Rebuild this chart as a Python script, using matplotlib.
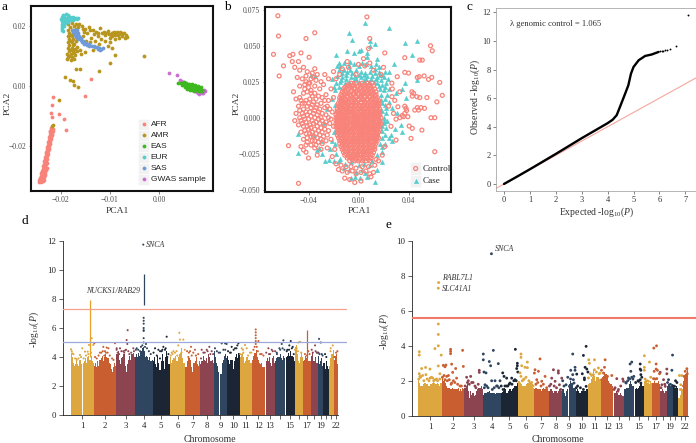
import numpy as np
import matplotlib
matplotlib.use('Agg')
import matplotlib.pyplot as plt
from matplotlib.patches import Rectangle

plt.rcParams['font.family'] = ['Liberation Serif', 'DejaVu Sans']
plt.rcParams['mathtext.fontset'] = 'custom'
plt.rcParams['mathtext.rm'] = 'Liberation Serif'
plt.rcParams['mathtext.it'] = 'Liberation Serif:italic'

W, H = 696, 443

# panel a, values in 1e-4 PCA units
afr_pts = [(-245,-318),(-240,-318),(-236,-316),(-244,-312),(-239,-311),(-235,-310),(-243,-305),(-238,-304),(-234,-303),
           (-241,-298),(-236,-297),(-232,-296),(-240,-290),(-235,-289),(-232,-287),(-238,-282),(-234,-281),(-230,-279),
           (-237,-274),(-233,-273),(-229,-271),(-236,-266),(-232,-265),(-235,-258),(-231,-257),(-228,-255),(-234,-250),
           (-230,-249),(-233,-242),(-229,-241),(-232,-234),(-228,-233),(-231,-226),(-227,-225),(-230,-218),(-226,-217),
           (-229,-210),(-225,-209),(-228,-202),(-224,-201),(-227,-194),(-223,-193),(-226,-186),(-222,-185),(-225,-178),
           (-221,-177),(-224,-170),(-220,-169),(-223,-162),(-219,-161),(-222,-154),(-218,-156),(-221,-146),(-220,-138),
           (-217,-142),(-223,-150),(-216,-148),(-216,-38),(-218,-64),(-220,-91),(-219,-102),(-203,-94),(-193,-109),
           (-190,-146),(-139,22),(-150,-32),(-96,174)]
amr_pts = [(-186,205),(-178,208),(-170,205),(-182,195),(-174,198),(-166,196),(-186,185),(-178,187),(-170,188),(-184,175),
           (-176,177),(-168,178),(-186,165),(-178,167),(-170,168),(-183,155),(-175,157),(-167,158),(-185,145),(-178,147),
           (-170,148),(-184,135),(-176,137),(-168,130),(-186,125),(-178,127),(-172,122),(-184,115),(-176,117),(-168,115),
           (-187,105),(-179,107),(-172,102),(-185,95),(-177,97),(-188,88),(-180,85),(-174,88),(-158,198),(-150,190),
           (-142,196),(-135,187),(-128,180),(-120,192),(-116,175),(-110,168),(-105,183),(-100,160),(-95,175),(-90,168),
           (-85,178),(-82,160),(-78,172),(-75,165),(-72,176),(-68,168),(-65,163),(-70,158),(-76,175),(-88,172),(-92,180),
           (-98,168),(-103,172),(-112,180),(-118,155),(-125,165),(-132,172),(-138,160),(-146,175),(-152,178),(-155,165),
           (-148,150),(-140,145),(-130,150),(-122,140),(-110,150),(-100,145),(-90,155),(-105,132),(-95,125),(-162,120),
           (-160,105),(-150,112),(-135,120),(-30,100),(-100,77),(-90,103),(-122,51),(-161,55),(-169,57),(-192,31),(-182,20),
           (-176,18),(-173,4),(-166,-2),(-203,-46),(-216,-130),(-218,-133),(-182,170),(-180,150),(-173,140),(-181,120),
           (-174,110),(-183,100),(-163,205),(-155,188),(-140,185),(-124,175),(-108,174),(-96,165),(-84,170),(-80,180)]
eas_pts = [(39,9),(44,11),(48,7),(52,9),(56,6),(60,4),(64,2),(68,0),(72,-2),(76,-4),(80,-7),(84,-9),(50,2),(54,0),(58,-2),
           (62,-4),(66,-6),(70,-8),(74,-10),(78,-12),(82,-14),(86,-15),(55,4),(59,1),(63,-1),(67,-3),(71,-5),(75,-7),(79,-9),
           (83,-11),(87,-12),(47,3),(51,5),(56,-3),(60,-7),(65,-10),(70,-12),(76,-14),(82,-17),(88,-18),(50,12),(55,10),
           (61,8),(67,6),(73,3),(79,-1),(85,-5),(52,-5),(58,-9),(64,-14),(72,-17)]
eur_pts = [(-195,236),(-190,238),(-186,234),(-182,230),(-176,228),(-170,226),(-166,226),(-198,228),(-193,229),(-187,226),
           (-180,224),(-173,222),(-168,221),(-199,221),(-194,222),(-188,219),(-182,218),(-175,217),(-198,214),(-193,215),
           (-186,212),(-197,207),(-192,208),(-197,200),(-193,200),(-197,193),(-197,186),(-196,181)]
sas_pts = [(-176,187),(-172,185),(-168,184),(-175,178),(-170,177),(-166,175),(-172,170),(-167,169),(-163,167),(-169,162),
           (-164,160),(-160,158),(-165,154),(-160,152),(-156,150),(-158,146),(-153,144),(-149,143),(-152,138),(-147,137),
           (-143,138),(-142,133),(-137,132),(-133,134),(-131,129),(-126,128),(-122,127),(-124,122),(-118,123),(-114,126),(-120,118)]
gwas_pts = [(20,44),(36,36),(43,20),(46,9),(92,-13),(87,-24),(80,-22),(73,-15),(83,-8),(94,-15),(90,-22),(56,-4),(67,-13),
            (77,-19),(48,14),(44,17),(85,-14),(82,-26)]
pop_labels = ['AFR', 'AMR', 'EAS', 'EUR', 'SAS', 'GWAS sample']
pop_colors = ['#F8837A', '#B8961E', '#3DB81E', '#55CCCC', '#6F9AD8', '#C96FD0']

# panel b, values in 1e-3 PCA units
control_pts = [(-64.5,70.8),(6.7,70),(-64,56.7),(-35,59),(-42,55),(9,55),(-68,44),(-60,36),(-63.5,29),(-55,43),(-52.5,44),(-46,45),
               (-39.5,42),(-53,39),(-48,39),(21,45),(57.6,50),(59,46.5),(37,41.7),(49,40),(51,40),(37,31.5),(40,31),(47,28),(48.5,28.5),
               (52.5,29),(58.6,28),(56,26.6),(65,24.5),(31,28.5),(26.7,24),(62.7,11),(67,15.5),(61,0),(58,0),(42.7,18),(44,17),(46.7,14.6),
               (49,14),(54.7,14),(50,7),(52.8,6.5),(45,5.3),(48,5.3),(39.5,0.7),(38,6.5),(36,0.7),(33,0),(31.5,7.6),(29,12),(26.7,14.6),
               (40.5,-5.8),(43,-7.4),(50.7,-8.6),(42,-14.4),(61,-23.6),(30,-15.5),(-56,-19.4),(-48,-45.6),(-42,-24),(-44,-22.4),
               (35,1.5),(37,3),(38.5,5),(37,8),(28,3),(30,-1),(24,8),(26,-6),(27,20),(33,18),(47,7),(43,15),
               # left cloud
               (-51,35),(-47,33),(-44,35),(-41,32),(-37,31),(-35,34),(-33,30),(-49,28),(-45,27),(-42,29),(-38,27),(-34,26),(-30,25),
               (-52,18),(-47,22),(-43,23),(-39,24),(-35,22),(-31,20),(-28,23),(-50,13),(-47,14),(-44,17),(-41,18),(-38,19),(-35,17),
               (-32,15),(-29,14),(-26,16),(-48,8),(-45,10),(-42,12),(-39,13),(-36,11),(-33,9),(-30,10),(-27,7),(-24,12),(-50,3),(-47,5),
               (-44,6),(-41,8),(-38,7),(-35,5),(-32,4),(-29,3),(-26,2),(-23,6),(-51,-2),(-47,0),(-44,1),(-41,2),(-38,1),(-35,0),(-32,-1),
               (-29,-2),(-26,-3),(-22,-1),(-48,-5),(-45,-4),(-42,-3),(-39,-5),(-36,-4),(-33,-6),(-30,-7),(-27,-8),(-46,-10),(-43,-9),
               (-40,-8),(-37,-10),(-34,-11),(-31,-12),(-28,-13),(-24,-9),(-44,-15),(-41,-14),(-38,-13),(-35,-16),(-32,-17),(-29,-18),
               (-26,-16),(-46,-20),(-42,-19),(-38,-19),(-35,-21),(-30,-22),(-25,-21),(-22,-15),(-20,-6),(-21,4),(-20,14),(-22,20),
               (-24,27),(-27,30),(-20,32),(-18,27),(-40,-28),(-33,-26),
               (-43,20),(-40,21),(-37,15),(-34,13),(-46,12),(-43,10),(-40,10),(-37,9),(-34,7),(-31,6),(-45,3),(-42,4),(-39,4),(-36,3),
               (-33,2),(-30,0),(-46,-2),(-43,-1),(-40,-1),(-37,-2),(-34,-3),(-31,-4),(-44,-6),(-41,-6),(-38,-7),(-35,-8),(-32,-9),(-29,-10),
               (-42,-11),(-39,-11),(-36,-13),(-33,-14),(-30,-15),(-41,-17),(-37,-16),(-34,-19),(-40,24),(-36,28),(-42,25),(-38,17),
               (-27,12),(-25,8),(-24,0),(-27,-5),(-25,-12),(-23,-4),
               # ring round the core
               (-16,-36),(-13,-37),(-9,-38),(-5,-37),(-2,-39),(2,-38),(6,-37),(9,-39),(12,-38),(-14,-33),(-10,-34),(-6,-34),(-2,-35),
               (3,-34),(8,-34),(13,-33),(16,-30),(-3,-45),(2,-44),(-18,-32),(-11,-42),(-7,-43),(10,-41),(-21,-27),(-19,-22),(21,-20),
               (19,-26),(14,-29),(-13,34),(-8,35),(0,37),(5,36),(9,38),(12,33),(-15,30),(-9,39),(4,41),(8,48),(-2,30),(18,30),(20,35)]
core_row_y = [24, 22, 20, 18, 16, 14, 12, 10, 8, 6, 4, 2, 0, -2, -4, -6, -8, -10, -12, -14, -16, -18, -20, -22, -24, -26, -28, -30]
core_row_x = [[-6,-2,3,7,11],
              [-9,-5,-1,4,8,12],
              [-12,-8,-3,1,5,9,13],
              [-13,-10,-6,-2,2,6,10,14],
              [-14,-11,-7,-4,0,3,7,11,14],
              [-15,-12,-9,-5,-2,2,5,9,12,15],
              [-15,-13,-10,-6,-3,0,4,7,10,13,16],
              [-16,-13,-10,-8,-4,-1,2,5,8,11,14,16],
              [-16,-14,-11,-8,-5,-2,1,4,7,10,13,16],
              [-17,-14,-11,-9,-6,-3,0,3,5,8,11,14,17],
              [-17,-15,-12,-9,-6,-4,-1,2,4,7,10,13,15,17],
              [-18,-15,-12,-10,-7,-4,-2,1,4,6,9,12,14,17],
              [-18,-16,-13,-10,-8,-5,-2,0,3,6,8,11,14,16,18],
              [-18,-15,-13,-10,-7,-4,-1,1,4,7,10,12,15,17],
              [-18,-16,-13,-11,-8,-5,-3,0,3,5,8,11,13,16,18],
              [-18,-15,-12,-10,-7,-4,-1,2,4,7,9,12,15,17],
              [-17,-15,-12,-9,-6,-4,-1,1,4,6,9,12,14,17],
              [-17,-14,-11,-9,-6,-3,0,2,5,8,11,13,16],
              [-17,-14,-11,-8,-5,-2,1,3,6,9,12,15],
              [-16,-13,-10,-7,-4,-1,2,5,8,11,14,16],
              [-15,-12,-10,-7,-4,-1,2,5,8,10,13,15],
              [-15,-12,-9,-6,-3,0,3,6,9,12,14],
              [-14,-11,-8,-5,-2,1,4,7,10,13],
              [-13,-10,-7,-4,-1,2,5,8,11,13],
              [-12,-9,-6,-3,0,3,6,9,12],
              [-11,-8,-4,-1,2,5,8,11],
              [-9,-6,-2,1,4,7,10],
              [-7,-3,0,3,6,9]]
core_row2_y = [23, 21, 19, 17, 15, 13, 11, 9, 7, 5, 3, 1, -1, -3, -5, -7, -9, -11, -13, -15, -17, -19, -21, -23, -25, -27, -29]
core_row2_x = [[-8,-4,1,5,9],
               [-11,-7,-3,2,6,10],
               [-11,-6,-1,3,7,11],
               [-12,-8,-4,0,4,8,12],
               [-13,-9,-6,-2,2,5,9,13],
               [-14,-11,-7,-4,0,3,7,11,14],
               [-14,-12,-8,-5,-2,2,5,9,12,15],
               [-15,-12,-9,-6,-3,0,4,7,10,13,15],
               [-15,-13,-10,-7,-4,-1,3,6,9,12,15],
               [-16,-13,-10,-8,-5,-2,2,4,7,10,13,16],
               [-16,-14,-11,-8,-5,-3,0,3,6,9,12,14,16],
               [-17,-14,-11,-9,-6,-3,0,3,5,8,11,13,16],
               [-17,-14,-12,-9,-6,-3,-1,2,5,7,10,13,16],
               [-17,-14,-12,-9,-6,-4,-2,2,4,6,9,12,14,17],
               [-17,-14,-11,-9,-6,-3,-1,1,3,6,8,11,14,16],
               [-16,-14,-11,-8,-5,-3,0,3,5,8,10,13,16],
               [-16,-13,-10,-8,-5,-2,1,3,6,9,12,15],
               [-16,-13,-10,-7,-4,-1,2,4,7,10,13,15],
               [-15,-12,-9,-6,-3,0,3,6,9,12,15],
               [-14,-11,-8,-5,-2,1,4,7,9,12,14],
               [-13,-10,-8,-5,-2,1,4,7,10,13],
               [-13,-10,-7,-4,-1,2,5,8,11],
               [-12,-9,-6,-3,0,3,6,9,12],
               [-11,-8,-5,-2,1,4,7,10],
               [-10,-7,-4,-1,2,4,7,10],
               [-8,-5,-1,3,6,9],
               [-5,-2,1,4,8]]
case_pts = [(5.3,66),(24,62),(-8,59),(-5,54),(37,51.6),(47,53.5),(9,53),(13,51),(9,50),(-9,46),(-3.5,45),(2,47),(0.5,46),(-18,43.5),
            (43,43.5),(7,45),(7,42),(15,41),(28,37),(-6.5,39),(-16,38),(-17,36),(16,35),(13,34),(24.5,32),(21,32),(37,24),(47,26),(38,13.4),
            (23.5,27),(-21,27),(-48.5,-11),(-48.5,-24.7),(34,-5),(35,-10),(27,-16),(-29,-25),(-27,-30),(-24,-29.4),(-32,-21),(-33,-22.5),
            (-6,-41.7),(1.3,-42),(13,-45),(5,-38.6),(-2,-37.5),(9,-33),(19,-31),(18.7,-23.6),
            (-15,36),(-12,38),(-8,36),(-4,37),(0,36),(3,38),(6,37),(10,36),(14,37),(-16,33),(-12,33),(-9,32),(-5,31),(-2,33),(2,32),(5,31),
            (9,32),(13,31),(17,30),(20,28),(-17,29),(-13,28),(-10,27),(-6,28),(-2,27),(2,28),(6,27),(10,27),(14,27),(18,26),(22,24),
            (-18,24),(-15,25),(-11,24),(15,24),(19,23),(24,20),(-20,21),(-16,21),(17,20),(20,19),(23,16),(18,16),(21,13),(24,11),(19,10),
            (22,7),(19,5),(22,3),(20,0),(23,-2),(20,-4),(22,-7),(19,-9),(21,-12),(24,-14),(19,-14),(21,-18),(-19,19),(-21,13),(-19,9),
            (-20,-10),(-21,-16),(-23,-22),(-19,-18),(-18,-25),(-20,-30),(-15,-29),(-11,-32),(-6,-31),(0,-33),(4,-32),(11,-30),(15,-26),
            (-8,-36),(-3,-41),(3,-36),(7,-41),(15,-36),(-36,-12),(-30,-16),(-25,6),(-28,-4),(-38,30),(-35,29),(30,17),(35,20),(31,3),
            (27,7),(29,-8),(26,-12),(-13,31),(-10,30),(-7,33),(-3,29),(0,30),(4,30),(7,29),(11,29),(15,28),(16,32),(19,30),(-14,26),
            (-8,25),(-4,26),(0,25),(4,26),(8,25),(12,25),(16,22),(21,21),(18,12),(21,9),(20,-2),(19,-6),(17,-18),(19,-20),(-16,-30),(-12,-35)]

# panel c
qq_expected = [0, 0.5, 1, 2, 3, 4, 4.2, 4.35, 4.48, 4.68, 4.8, 4.9, 5.0, 5.2, 5.45, 5.7, 5.97]
qq_observed = [0, 0.51, 1.03, 2.1, 3.2, 4.25, 4.5, 4.81, 5.4, 6.33, 6.9, 7.7, 8.18, 8.65, 8.95, 9.05, 9.23]
qq_tail_expected = [6.03, 6.08, 6.14, 6.2, 6.28, 6.42, 6.64, 7.12]
qq_tail_observed = [9.27, 9.3, 9.32, 9.35, 9.38, 9.44, 9.65, 11.8]

# manhattan panels
chrom_mb = [249, 243, 198, 191, 181, 171, 159, 146, 141, 135, 135, 133, 114, 107, 102, 90, 81, 78, 59, 63, 48, 51]
chrom_colors = ['#DDA63F', '#C95F30', '#8C4450', '#2F4560', '#1C2534']
chrom_labels = ['1','2','3','4','5','6','7','8','9','10','11','12','13','','15','','17','','19','','','22']

d_heights = [[4.3,4.0,3.6,3.4,3.5,3.9,3.5,3.4,3.8,3.5,0,3.6,3.7,3.9,3.6,4.0,4.1,3.8,4.1,3.7,3.6],
             [3.4,3.6,3.3,3.7,3.4,3.8,3.9,4.1,3.7,4.0,4.2,4.0,3.9,3.6,3.5,3.2,3.0,3.3,3.6,3.4],
             [4.2,4.4,3.8,3.5,3.9,4.0,4.2,3.4,3.0,3.5,3.8,4.1,3.8,4.2,4.3,4.0],
             [4.0,4.2,4.0,4.3,4.1,4.4,4.6,4.7,4.4,4.0,4.1,4.0,3.8,4.0,3.7,3.8],
             [3.7,4.0,3.5,3.3,4.1,3.6,3.1,3.7,4.2,3.7,3.2,4.0,4.4,4.0,3.5],
             [4.0,3.6,3.8,3.9,3.9,4.1,3.7,4.0,4.2,4.3,4.6,3.9,3.6,3.6],
             [3.3,3.7,3.9,3.9,3.8,3.3,3.0,3.6,3.7,4.0,3.5,3.4,3.7],
             [3.5,3.7,4.1,3.8,3.7,3.9,3.6,4.2,4.0,3.7,3.8,3.6],
             [4.4,4.0,3.6,3.4,3.0,0,2.8,3.6,3.8,4.1,4.2,3.9],
             [4.1,3.8,3.5,3.8,3.8,3.2,3.7,4.0,4.2,3.9,4.3],
             [4.0,4.2,4.3,4.0,3.6,3.7,4.0,3.8,3.8,3.6,3.6],
             [3.8,4.1,4.3,4.5,4.0,3.8,3.6,3.5,3.6,3.3,3.3],
             [0,3.7,3.9,3.7,4.0,3.6,3.4,3.9,4.1,3.6],
             [3.7,3.9,4.0,4.0,4.2,3.9,3.8,4.1,3.9],
             [0,4.0,4.1,4.3,4.1,4.4,4.1,4.0,3.7],
             [4.7,4.8,4.2,3.7,3.6,4.0,4.3,4.0],
             [3.7,3.8,4.1,3.9,4.3,3.7,3.7],
             [4.1,4.3,3.7,3.7,4.0,3.6,3.6],
             [4.1,3.5,3.7,3.9,3.4],
             [3.6,3.2,3.7,3.4,3.2],
             [3.4,3.9,4.2,4.5],
             [3.8,4.1,4.2,3.5]]
d_dot_x = [4,18,100,125,154,183,197,226,243,254,351,387,405,369,397,476,494,315,362,601,608,612,530,494,566,584,619,673,
           709,745,798,809,770,1031,906,942,995,1013,977,1038,959,1167,1174,1210,1156,1138,1103,1085,1292,1282,1335,1317,1264,
           1407,1461,1489,1425,1514,1622,1658,1675,1550,1640,1604,1801,1790,1729,1765,1711,1872,1890,1837,1926,1854,
           1987,1987,1987,1987,1987,1987,2016,1998,1962,2051,2123,2159,2195,2141,2284,2241,2266,2213,2363,2348,2384,2327,
           2463,2445,2427,2409,2552,2624,2588,2642,2667,2685,2660,2696,2731,2814,2792,2864,
           784,784,784,784,784,784,784,784,780,
           # lower hits just over the solid band
           12,30,48,66,85,112,140,165,190,218,262,280,300,330,345,378,420,445,460,505,520,545,575,595,630,650,680,700,725,
           755,820,840,860,890,925,960,985,1020,1050,1075,1095,1120,1145,1190,1225,1250,1270,1300,1345,1370,1400,1440,1470,
           1500,1530,1570,1590,1660,1690,1720,1750,1780,1820,1850,1905,1940,1975,2010,2035,2070,2100,2130,2170,2215,2250,
           2275,2295,2320,2345,2375,2395,2420,2440,2475,2515,2535,2565,2600,2630,2650,2672,2705,2745,2790,2830,2850]
d_dot_y = [4.53,4.25,4.14,4.6,4.37,4.37,4.83,5.29,4.83,4.94,4.7,4.65,4.6,4.4,4.3,4.95,4.5,4.3,4.1,5.17,4.9,5.85,4.6,4.6,4.4,4.45,4.4,4.6,
           4.6,4.4,4.7,4.9,4.8,5.4,4.6,4.5,4.7,4.5,4.4,4.0,3.9,5.67,5.2,5.2,4.8,4.4,4.4,4.3,4.7,4.4,4.5,4.3,4.0,
           4.5,4.5,4.7,4.3,4.4,4.94,4.94,4.9,4.6,4.5,4.3,4.94,4.8,4.7,4.6,4.3,4.83,4.6,4.6,4.3,4.3,
           4.9,5.1,5.3,5.5,5.7,5.9,5.1,4.7,4.5,4.2,4.6,4.5,4.4,4.2,5.15,4.6,4.9,4.3,5.1,4.8,4.7,4.5,
           5.05,5.0,4.6,4.5,4.4,4.8,4.5,4.3,5.25,5.0,4.3,4.2,4.2,4.8,4.6,4.4,
           5.0,5.3,5.8,5.85,6.0,6.3,6.5,6.7,11.75,
           4.4,4.2,3.9,3.8,3.9,4.0,3.9,4.1,4.2,4.3,4.0,3.9,4.1,4.3,4.4,4.3,4.1,3.9,3.8,4.3,4.2,4.4,4.3,4.5,4.2,4.3,4.4,4.5,4.5,
           4.7,4.6,4.4,4.2,4.3,4.1,4.4,4.5,4.6,4.2,4.1,4.2,4.3,4.1,4.3,4.5,4.4,4.3,4.1,4.1,4.2,3.9,4.3,4.4,
           4.2,4.2,4.4,4.3,4.5,4.4,4.3,4.5,4.6,4.2,4.5,4.1,4.3,4.7,4.4,4.2,4.1,4.3,4.2,4.4,4.2,4.5,
           4.6,4.5,4.4,4.5,4.6,4.2,4.4,4.4,4.3,4.2,4.1,4.2,4.3,4.4,4.3,4.2,4.1,4.0,4.4,4.0,4.3]
# vertical runs of hits: position, run start, run end, colour
d_run_x = [206, 784, 2542]
d_run_low = [4.0, 7.6, 3.9]
d_run_high = [7.95, 9.7, 5.85]
d_run_colors = ['#E9A024', '#2F4560', '#C95F30']

e_heights = [[2.1,1.9,1.7,1.7,1.8,1.9,1.9,1.8,1.8,1.7,1.7,1.8,1.9,2.0,1.9,1.8,1.8,1.9,1.8,1.7,1.9],
             [2.2,2.0,2.1,1.9,1.7,1.6,1.6,1.5,1.5,1.6,1.5,1.5,1.5,1.5,1.6,1.4,1.5,1.4,1.6,1.5],
             [1.6,1.7,1.9,1.4,1.0,1.4,1.2,1.3,1.1,1.2,1.4,1.5,1.6,1.6,1.7,1.5],
             [1.2,1.3,1.3,1.3,1.35,1.4,1.3,1.3,1.3,1.3,1.3,1.25,1.3,1.3,1.3,1.3],
             [1.3,1.35,1.4,1.6,1.5,1.3,1.4,1.5,1.5,1.4,1.5,1.6,1.7,1.7,1.9],
             [2.0,1.9,1.9,1.8,1.7,1.7,1.7,1.8,1.9,1.9,2.0,1.9,1.8,1.6],
             [1.5,1.6,1.6,1.5,1.5,1.5,1.4,1.5,1.6,1.5,1.5,1.5,1.4],
             [1.4,1.5,1.5,1.4,1.3,1.4,1.4,1.3,1.4,1.5,1.5,1.4],
             [1.5,1.3,1.1,1.4,1.5,0,1.8,2.0,1.9,1.7,1.6,1.5],
             [1.4,1.5,1.4,1.3,1.3,1.4,1.4,1.4,1.4,1.5,1.5],
             [1.8,1.9,2.1,2.2,2.6,2.3,2.0,2.2,2.2,2.1,2.1],
             [2.0,2.2,2.3,2.5,2.4,2.2,2.0,1.9,1.8,1.8,1.7],
             [0,1.3,1.4,1.3,1.2,1.2,1.3,1.2,1.1,1.1],
             [1.5,1.5,1.6,1.6,1.8,2.0,1.8,1.7,1.7],
             [0,1.5,1.6,1.5,1.6,1.7,1.8,1.7,1.7],
             [2.0,2.1,2.0,1.9,1.9,1.8,2.0,1.9],
             [1.9,1.9,2.0,1.9,1.9,2.0,1.8],
             [1.4,1.4,1.5,1.4,1.3,1.4,1.4],
             [1.7,1.8,1.8,1.7,1.8],
             [1.7,1.6,1.6,1.7,1.6],
             [1.0,1.2,1.6,1.5],
             [2.0,2.2,2.4,2.6]]
e_dot_x = [11,11,36,78,125,178,214,214,214,214,217,245,231,214,153,11,18,46,82,125,178,206,
           267,295,285,345,345,345,356,399,473,481,367,409,303,285,331,356,445,
           651,651,559,516,534,570,605,694,694,801,758,772,854,701,723,783,819,872,712,844,
           1036,1057,1057,1050,1062,901,915,943,997,979,1032,943,
           1096,1096,1164,1104,1139,1164,1086,1096,1121,1193,1299,1246,1239,1282,1353,1317,1264,
           1442,1495,1495,1424,1460,1531,1541,1506,1648,1627,1673,1673,1648,1691,1577,1655,1613,1662,1638,
           1791,1762,1780,1798,1773,1773,1791,1762,1819,1826,1880,1816,1880,1869,1922,1862,
           1994,1987,1940,1976,1958,2019,2065,2118,2182,2189,2136,2100,
           2278,2260,2268,2243,2278,2300,2218,2368,2368,2375,2375,2350,2368,2375,
           2412,2467,2412,2412,2456,2513,2542,2538,2538,2552,2517,2510,2545,
           2581,2574,2617,2599,2652,2652,2670,2635,2713,2706,2734,2745,2787,2812,2801,2866,2848,2837,
           781,
           # lower hits just over the solid band
           6,25,60,95,115,140,165,195,230,258,275,310,322,350,375,390,420,460,500,525,545,585,615,640,670,
           705,730,745,790,810,835,860,885,905,925,955,970,1000,1020,1045,1075,1110,1130,1150,1180,1210,1225,
           1255,1275,1310,1335,1370,1400,1415,1450,1475,1520,1555,1595,1625,1640,1685,1700,1730,1750,1810,1835,
           1850,1900,1930,1955,2000,2040,2090,2130,2160,2215,2235,2255,2290,2320,2345,2385,2420,2440,2480,2525,
           2560,2590,2630,2660,2690,2725,2760,2795,2830,2855,2870]
e_dot_y = [3.66,3.47,2.7,2.76,2.67,3.84,4.0,4.65,5.25,7.3,7.62,3.47,2.4,2.85,2.16,2.4,2.25,2.3,2.35,2.15,2.06,2.0,
           2.88,2.9,2.8,3.8,3.68,3.55,2.95,2.7,3.74,2.82,2.48,2.15,2.25,2.06,2.06,1.87,1.7,
           2.6,2.48,2.25,2.2,2.0,1.9,1.7,3.53,3.2,3.74,3.1,2.86,2.98,2.5,2.45,2.0,2.0,2.0,1.77,1.7,
           3.8,3.0,2.86,2.7,2.5,2.45,2.25,2.15,2.15,1.87,2.06,1.7,
           3.53,3.34,3.07,2.86,2.77,2.75,2.45,2.25,2.06,1.87,3.25,2.63,2.44,2.54,2.25,1.97,2.06,
           2.63,2.57,2.44,2.15,1.97,2.15,2.0,1.77,3.53,2.6,2.77,2.6,2.35,2.38,1.77,2.06,1.68,1.87,1.77,
           3.97,3.45,2.77,2.67,2.16,2.06,1.68,1.5,3.2,3.0,3.2,2.16,2.63,2.35,2.73,1.87,
           3.2,2.77,2.44,2.44,2.06,2.25,2.3,2.12,2.1,1.97,1.5,1.6,
           3.07,2.96,2.54,2.16,2.2,2.25,1.87,2.96,2.67,2.6,2.35,1.97,2.06,1.87,
           3.43,3.07,2.77,2.6,1.97,3.87,4.0,2.96,2.67,2.6,2.54,2.12,2.12,
           2.48,2.4,2.06,1.77,2.67,2.4,2.06,1.68,3.47,2.6,1.68,2.0,2.3,2.3,1.77,2.69,2.54,2.25,
           9.27,
           2.1,2.2,2.0,2.1,2.0,2.2,2.0,2.1,2.1,2.2,2.3,2.0,2.3,1.8,2.0,1.9,1.8,1.7,1.7,1.9,1.8,1.9,1.6,1.8,1.5,
           1.6,1.7,1.6,1.5,1.6,1.7,1.6,1.7,1.5,1.7,1.7,1.8,1.8,2.0,2.0,1.9,2.0,2.1,2.2,2.0,1.9,1.7,
           1.8,1.9,1.7,1.8,1.6,1.7,1.8,1.7,1.6,1.5,1.7,2.2,2.1,1.8,1.6,1.7,1.6,2.4,2.5,2.4,
           2.3,2.5,2.4,2.6,2.2,1.6,1.5,1.4,1.7,1.9,2.0,2.1,2.1,1.9,2.0,2.2,2.1,2.0,2.2,2.1,
           1.7,1.6,1.8,1.9,1.8,1.7,1.9,1.5,1.7,2.3,2.4]

fig = plt.figure(figsize=(W / 100, H / 100), dpi=100)


def make_axes(left, top, right, bottom):
    return fig.add_axes([left / W, 1 - bottom / H, (right - left) / W, (bottom - top) / H])


def ptext(x, y, s, **kw):
    kw.setdefault('ha', 'center')
    kw.setdefault('va', 'center')
    fig.text(x / W, 1 - y / H, s, **kw)


def key_rows(ax, labels, x0, y0, dy, styles, family, size):
    # ggplot style keys, in axes coordinates
    bbox = ax.get_position()
    kw, kh = 11 / (bbox.width * W), dy / (bbox.height * H)
    for i, lab in enumerate(labels):
        yy = y0 - i * dy / (bbox.height * H)
        ax.add_patch(Rectangle((x0 - kw / 2, yy - kh / 2), kw, kh, transform=ax.transAxes, fc='#F2F2F2', ec='white', lw=0.4, zorder=8))
        ax.scatter([x0], [yy], transform=ax.transAxes, zorder=9, clip_on=False, **styles[i])
        ax.text(x0 + 7 / (bbox.width * W), yy, lab, transform=ax.transAxes, va='center', ha='left', family=family, fontsize=size, color='#222222', zorder=9)


def boxed(ax):
    for s in ax.spines.values():
        s.set_linewidth(1.5)
        s.set_color('#111111')
    ax.tick_params(length=1.8, width=0.5, color='#555555', labelcolor='#4D4D4D', labelsize=5.6, pad=1.5)


# a
ax_a = make_axes(31, 6, 213, 191)
groups_a = [gwas_pts, afr_pts, amr_pts, eas_pts, eur_pts, sas_pts]
cols_a = [pop_colors[5], pop_colors[0], pop_colors[1], pop_colors[2], pop_colors[3], pop_colors[4]]
for pts, col in zip(groups_a, cols_a):
    arr = np.array(pts) * 1e-4
    ax_a.scatter(arr[:, 0], arr[:, 1], s=7.5, color=col, linewidths=0)
ax_a.set_xlim(-0.0261, 0.0110)
ax_a.set_ylim(-0.0348, 0.0265)
ax_a.set_xticks([-0.02, -0.01, 0.0], ['\u22120.02', '\u22120.01', '0.00'])
ax_a.set_yticks([-0.02, 0.0, 0.02], ['\u22120.02', '0.00', '0.02'])
boxed(ax_a)
key_rows(ax_a, pop_labels, 0.62, 0.361, 11, [dict(s=7.5, linewidths=0, color=c) for c in pop_colors], 'Liberation Sans', 6.0)

# b
ax_b = make_axes(265, 7, 451, 192)
case = np.array(case_pts) * 1e-3
ax_b.scatter(case[:, 0], case[:, 1], s=10, marker='^', color='#55CCCC', linewidths=0.3)
core = np.array([(x, y) for y, xs in zip(core_row_y + core_row2_y, core_row_x + core_row2_x) for x in xs], dtype=float)
control = np.vstack([np.array(control_pts), core]) * 1e-3
ax_b.scatter(control[:, 0], control[:, 1], s=8, marker='o', facecolors='none', edgecolors='#F8837A', linewidths=0.9)
ax_b.set_xlim(-0.0748, 0.074)
ax_b.set_ylim(-0.0516, 0.0769)
ax_b.set_xticks([-0.04, 0.0, 0.04], ['\u22120.04', '0.00', '0.04'])
ax_b.set_yticks([-0.05, -0.025, 0.0, 0.025, 0.05, 0.075], ['\u22120.050', '\u22120.025', '0.000', '0.025', '0.050', '0.075'])
boxed(ax_b)
key_rows(ax_b, ['Control', 'Case'], 0.81, 0.127, 12.5,
         [dict(s=8, marker='o', facecolors='none', edgecolors='#F8837A', linewidths=0.9),
          dict(s=10, marker='^', color='#55CCCC', linewidths=0.3)],
         'Liberation Serif', 6.6)

# c
ax_c = make_axes(495.7, 8, 695.7, 190.7)
ax_c.plot([-0.32, 7.4], [-0.32, 7.4], color='#F6A79E', lw=0.8, zorder=1)
ax_c.plot(qq_expected, qq_observed, color='black', lw=1.7, zorder=2, solid_capstyle='round')
ax_c.scatter(qq_tail_expected, qq_tail_observed, s=1.8, color='black', linewidths=0, zorder=3)
ax_c.set_xlim(-0.32, 7.4)
ax_c.set_ylim(-0.47, 12.3)
ax_c.set_xticks(range(8))
ax_c.set_yticks(range(0, 13, 2))
for s in ax_c.spines.values():
    s.set_linewidth(0.5)
    s.set_color('#999999')
ax_c.spines['right'].set_visible(False)
ax_c.tick_params(length=2, width=0.5, color='#555555', labelcolor='#333333', labelsize=6, pad=1.5)
ax_c.text(0.07, 0.915, '\u03bb genomic control = 1.065', transform=ax_c.transAxes, fontsize=6.2, color='#333333', va='center')


def manhattan(ax, heights, dot_x, dot_y, dot_size, xlim, ylim, yticks):
    ends = np.cumsum(chrom_mb)
    starts = ends - np.array(chrom_mb)
    for i, vals in enumerate(heights):
        edges = np.linspace(starts[i], ends[i], len(vals) + 1)
        ax.stairs(vals, edges, fill=True, color=chrom_colors[i % 5], lw=0)
    dx = np.array(dot_x, dtype=float)
    idx = np.searchsorted(ends, dx)
    cols = [chrom_colors[k % 5] for k in idx]
    ax.scatter(dx, dot_y, s=dot_size, c=cols, linewidths=0, zorder=3)
    ax.set_xlim(*xlim)
    ax.set_ylim(*ylim)
    ax.set_yticks(yticks)
    ax.set_xticks((starts + ends) / 2, chrom_labels)
    ax.spines['top'].set_visible(False)
    ax.spines['right'].set_visible(False)
    ax.spines['bottom'].set_bounds(xlim[0], ends[-1])
    for s in ['left', 'bottom']:
        ax.spines[s].set_linewidth(0.6)
        ax.spines[s].set_color('#222222')
    ax.tick_params(length=3, width=0.5, color='#222222', labelcolor='#222222', labelsize=6.3, pad=2)


# d
ax_d = make_axes(63, 241, 347, 415)
manhattan(ax_d, d_heights, d_dot_x, d_dot_y, 2.2, (-82, 2967), (0, 12), range(0, 13, 2))
ax_d.vlines(d_run_x, d_run_low, d_run_high, colors=d_run_colors, lw=0.9, zorder=3)
ax_d.axhline(7.3, color='#F6A090', lw=0.9, zorder=4)
ax_d.axhline(5.05, color='#9AA8DC', lw=0.9, zorder=4)
ax_d.text(810, 11.75, 'SNCA', style='italic', fontsize=5.7, color='#333333', va='center', clip_on=False)
ax_d.text(740, 8.55, 'NUCKS1/RAB29', style='italic', fontsize=5.7, color='#333333', va='center', ha='right')

# e
ax_e = make_axes(411.7, 241, 695.5, 415.7)
manhattan(ax_e, e_heights, e_dot_x, e_dot_y, 4.2, (-70, 2958), (0, 10), range(0, 11, 2))
ax_e.axhline(5.57, color='#F07A6A', lw=1.5, zorder=4)
ax_e.text(815, 9.57, 'SNCA', style='italic', fontsize=5.7, color='#333333', va='center')
ax_e.text(250, 7.87, 'RABL7L1', style='italic', fontsize=5.7, color='#333333', va='center')
ax_e.text(250, 7.25, 'SLC41A1', style='italic', fontsize=5.7, color='#333333', va='center')

# shared text
log_p = r'-log$_{10}$($\mathit{P}$)'
ptext(117, 211, 'PCA1', fontsize=6.8, color='#333333')
ptext(8, 103, 'PCA2', fontsize=6.8, color='#333333', rotation=90)
ptext(359, 211, 'PCA1', fontsize=6.8, color='#333333')
ptext(237, 103, 'PCA2', fontsize=6.8, color='#333333', rotation=90)
ptext(597, 212, 'Expected ' + log_p, fontsize=7, color='#333333')
ptext(475, 97, 'Observed ' + log_p, fontsize=7, color='#333333', rotation=90)
ptext(210, 439, 'Chromosome', fontsize=7, color='#333333')
ptext(558, 439, 'Chromosome', fontsize=7, color='#333333')
ptext(34, 330, log_p, fontsize=7, color='#333333', rotation=90)
ptext(384, 332, log_p, fontsize=7, color='#333333', rotation=90)
for letter, lx, ly in [('a', 5, 7), ('b', 227, 7), ('c', 469, 7), ('d', 25, 221), ('e', 388, 225)]:
    ptext(lx, ly, letter, fontsize=9.5, color='black')

fig.savefig('out.png', dpi=100)
